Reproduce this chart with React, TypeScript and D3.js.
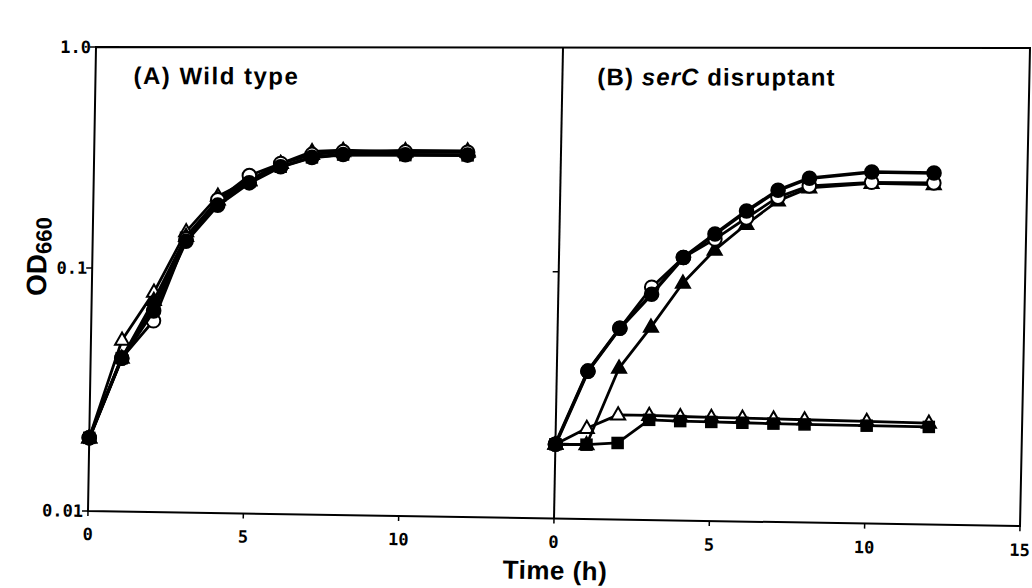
import React from "react";
import * as d3 from "d3";

// Time points (h)
const times = [0, 1, 2, 3, 4, 5, 6, 7, 8, 10, 12];

// Panel A: Wild type (OD660)
const aOpenTri = [0.02, 0.0507, 0.08, 0.147, 0.213, 0.252, 0.3, 0.33, 0.34, 0.345, 0.345];
const aFilledSq = [0.02, 0.0427, 0.07, 0.138, 0.2, 0.248, 0.29, 0.32, 0.33, 0.329, 0.329];
const aFilledTri = [0.02, 0.0427, 0.074, 0.14, 0.205, 0.25, 0.3, 0.34, 0.345, 0.34, 0.34];
const aOpenCircle = [0.02, 0.0427, 0.061, 0.136, 0.205, 0.264, 0.3, 0.33, 0.34, 0.34, 0.34];
const aFilledCircle = [0.02, 0.0427, 0.067, 0.133, 0.194, 0.245, 0.29, 0.32, 0.33, 0.33, 0.33];

// Panel B: serC disruptant (OD660)
const bOpenTri = [0.02, 0.0233, 0.0265, 0.0265, 0.0263, 0.0262, 0.0261, 0.026, 0.0259, 0.0257, 0.0255];
const bFilledSq = [0.02, 0.02, 0.0204, 0.0254, 0.0252, 0.0251, 0.025, 0.0249, 0.0248, 0.0247, 0.0246];
const bFilledTri = [0.02, 0.02, 0.041, 0.0602, 0.091, 0.1265, 0.165, 0.21, 0.24, 0.252, 0.25];
const bOpenCircle = [0.02, 0.0397, 0.0594, 0.0873, 0.117, 0.1416, 0.176, 0.218, 0.245, 0.255, 0.254];
const bFilledCircle = [0.02, 0.0397, 0.0594, 0.0818, 0.117, 0.149, 0.189, 0.234, 0.265, 0.283, 0.281];

const yTicks = [1.0, 0.1, 0.01];
const yTickLabels = ["1.0", "0.1", "0.01"];
const xTicksA = [0, 5, 10];
const xTicksB = [0, 5, 10, 15];

type Shape = "circle" | "triangle" | "square";
interface Series { values: number[]; shape: Shape; filled: boolean; lw: number; }

const seriesA: Series[] = [
  { values: aOpenTri, shape: "triangle", filled: false, lw: 2.8 },
  { values: aFilledSq, shape: "square", filled: true, lw: 2.8 },
  { values: aFilledTri, shape: "triangle", filled: true, lw: 2.8 },
  { values: aOpenCircle, shape: "circle", filled: false, lw: 2.8 },
  { values: aFilledCircle, shape: "circle", filled: true, lw: 3.6 },
];
const seriesB: Series[] = [
  { values: bOpenTri, shape: "triangle", filled: false, lw: 2.8 },
  { values: bFilledSq, shape: "square", filled: true, lw: 2.8 },
  { values: bFilledTri, shape: "triangle", filled: true, lw: 2.8 },
  { values: bOpenCircle, shape: "circle", filled: false, lw: 2.8 },
  { values: bFilledCircle, shape: "circle", filled: true, lw: 3.6 },
];

// plot frame (straight coordinates, before the scan distortion)
const X0 = 88;
const Y0 = 511;
const PW = 466;
const YT = 47;
const PH = Y0 - YT;

const xA = d3.scaleLinear().domain([0, 15]).range([X0, X0 + PW]);
const xB = d3.scaleLinear().domain([0, 15]).range([X0 + PW, X0 + 2 * PW]);
const y = d3.scaleLog().domain([0.01, 0.1, 1]).range([Y0, 268, YT]);

// bilinear map imitating the skew of the scanned figure
const TL = [96, 47], TR = [1030, 48], BR = [1020, 526], BL = [88, 511];
function P(X: number, Y: number): [number, number] {
  const s = (X - X0) / (2 * PW);
  const t = (Y0 - Y) / PH;
  const px = (1 - s) * (1 - t) * BL[0] + s * (1 - t) * BR[0] + (1 - s) * t * TL[0] + s * t * TR[0];
  const py = (1 - s) * (1 - t) * BL[1] + s * (1 - t) * BR[1] + (1 - s) * t * TL[1] + s * t * TR[1];
  return [px, py];
}
function tilt(X: number, Y: number): number {
  const a = P(X, Y), b = P(X + 10, Y);
  return (Math.atan2(b[1] - a[1], b[0] - a[0]) * 180) / Math.PI;
}
function at(X: number, Y: number, extra = 0): string {
  const [px, py] = P(X, Y);
  return `translate(${px},${py}) rotate(${tilt(X, Y) + extra})`;
}
function seg(x1: number, y1: number, x2: number, y2: number, sw: number, key?: string) {
  const a = P(x1, y1), b = P(x2, y2);
  return <line key={key} x1={a[0]} y1={a[1]} x2={b[0]} y2={b[1]} stroke="#000" strokeWidth={sw} />;
}

const tickFont = "'DejaVu Sans Mono', monospace";
const labelFont = "'Liberation Sans', Arial, sans-serif";

function Marker({ c, shape, filled }: { c: [number, number]; shape: Shape; filled: boolean }) {
  const [cx, cy] = c;
  const fill = filled ? "#000" : "#fff";
  if (shape === "circle") return <circle cx={cx} cy={cy} r={6.8} fill={fill} stroke="#000" strokeWidth={2} />;
  if (shape === "square") return <rect x={cx - 5.5} y={cy - 5.5} width={11} height={11} fill={fill} stroke="#000" strokeWidth={1.5} />;
  const s = 14;
  const hh = s * 0.87;
  const pts = `${cx},${cy - hh * 0.62} ${cx - s / 2},${cy + hh * 0.38} ${cx + s / 2},${cy + hh * 0.38}`;
  return <polygon points={pts} fill={fill} stroke="#000" strokeWidth={2} strokeLinejoin="miter" />;
}

function Panel({ x, series }: { x: d3.ScaleLinear<number, number>; series: Series[] }) {
  const line = d3.line<[number, number]>();
  return (
    <g>
      {series.map((s, si) => {
        const pts = s.values.map((v, i) => P(x(times[i]), y(v)));
        return (
          <g key={si}>
            <path d={line(pts) || ""} fill="none" stroke="#000" strokeWidth={s.lw} strokeLinejoin="round" />
            {pts.map((c, i) => (
              <Marker key={i} c={c} shape={s.shape} filled={s.filled} />
            ))}
          </g>
        );
      })}
    </g>
  );
}

export default function App() {
  const frame = [P(X0, YT), P(X0 + 2 * PW, YT), P(X0 + 2 * PW, Y0), P(X0, Y0)].map((p) => p.join(",")).join(" ");
  return (
    <svg width={1032} height={588} style={{ position: "absolute", left: 0, top: 0, background: "#fff" }}>
      {/* frame */}
      <polygon points={frame} fill="none" stroke="#000" strokeWidth={2} />
      {seg(xB(0), YT, xB(0), Y0, 2)}

      {/* y ticks */}
      {yTicks.map((t, i) => (
        <g key={i}>
          {seg(X0 - 6, y(t), X0, y(t), 1.5)}
          <text transform={at(X0 - 5, y(t))} dy="0.35em" textAnchor="end" fontFamily={tickFont} fontWeight="bold" fontSize={17}>
            {yTickLabels[i]}
          </text>
        </g>
      ))}
      {seg(xB(0) - 6, y(0.1), xB(0), y(0.1), 1.5)}

      {/* x ticks */}
      {xTicksA.map((t) => (
        <g key={"a" + t}>
          {seg(xA(t), Y0, xA(t), Y0 + 5, 1.5)}
          <text transform={at(xA(t), Y0 + 29)} textAnchor="middle" fontFamily={tickFont} fontWeight="bold" fontSize={17}>{t}</text>
        </g>
      ))}
      {xTicksB.map((t) => (
        <g key={"b" + t}>
          {seg(xB(t), Y0, xB(t), Y0 + 5, 1.5)}
          <text transform={at(xB(t), Y0 + 29)} textAnchor="middle" fontFamily={tickFont} fontWeight="bold" fontSize={17}>{t}</text>
        </g>
      ))}

      <Panel x={xA} series={seriesA} />
      <Panel x={xB} series={seriesB} />

      {/* panel labels */}
      <text transform={at(126, 84)} fontFamily={labelFont} fontWeight="bold" fontSize={24} letterSpacing={1.5}>(A) Wild type</text>
      <text transform={at(589, 84)} fontFamily={labelFont} fontWeight="bold" fontSize={24} letterSpacing={1.1}>
        (B) <tspan fontStyle="italic">serC</tspan> disruptant
      </text>

      {/* axis titles */}
      <text transform={at(556, Y0 + 60)} textAnchor="middle" fontFamily={labelFont} fontWeight="bold" fontSize={26} letterSpacing={0.5}>Time (h)</text>
      <text transform={at(42, 257, -90)} textAnchor="middle" fontFamily={labelFont} fontWeight="bold" fontSize={28}>
        OD<tspan fontSize={22} dy={5}>660</tspan>
      </text>
    </svg>
  );
}
